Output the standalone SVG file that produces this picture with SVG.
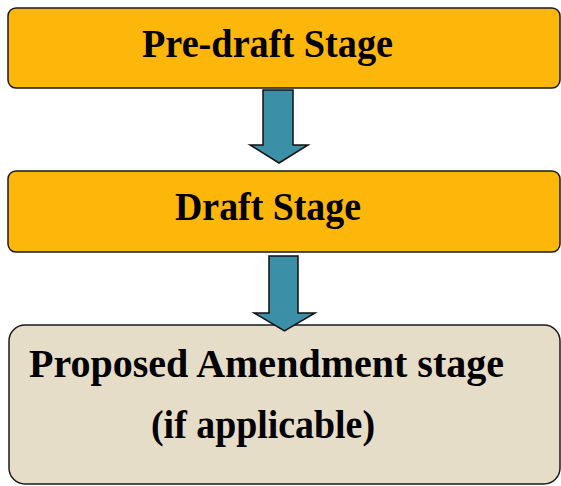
<svg xmlns="http://www.w3.org/2000/svg" width="561" height="486" viewBox="0 0 561 486">
<style>
.stage{fill:#FDB60A;stroke:#1a1a1a;stroke-width:1.5}
.opt{fill:#E6DDC9;stroke:#1a1a1a;stroke-width:1.5}
.arrow{fill:#3B8FA6;stroke:#111;stroke-width:1.5;stroke-linejoin:miter}
.lbl{font-family:"Liberation Serif","DejaVu Serif",serif;font-weight:bold;font-size:39px;fill:#000;text-anchor:middle}
</style>
<rect width="561" height="486" fill="#fff"/>
<g id="pre-draft">
<rect class="stage" x="8" y="8" width="552" height="80" rx="8"/>
<text class="lbl" x="267.5" y="57" textLength="251" lengthAdjust="spacingAndGlyphs">Pre-draft Stage</text>
</g>
<g id="draft">
<rect class="stage" x="8" y="171" width="552" height="81" rx="8"/>
<text class="lbl" x="268" y="220" textLength="186" lengthAdjust="spacingAndGlyphs">Draft Stage</text>
</g>
<g id="proposed">
<rect class="opt" x="9" y="325" width="551" height="159" rx="16"/>
<text class="lbl" x="266.5" y="377" textLength="475" lengthAdjust="spacingAndGlyphs">Proposed Amendment stage</text>
<text class="lbl" x="263" y="438" textLength="224" lengthAdjust="spacingAndGlyphs">(if applicable)</text>
</g>
<g id="connectors">
<polygon class="arrow" points="263,90 293,90 293,145 308,145 279,163 250,145 263,145"/>
<polygon class="arrow" points="269,256 298,256 298,313 315,313 284.5,331 254,313 269,313"/>
</g>
</svg>
